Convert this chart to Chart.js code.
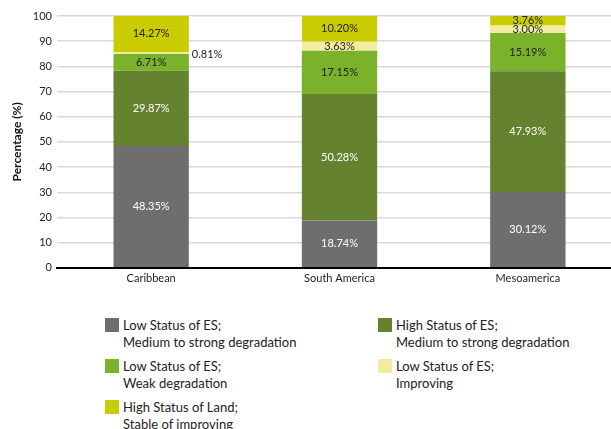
<!DOCTYPE html>
<html>
<head>
<meta charset="utf-8">
<script src="https://cdn.jsdelivr.net/npm/chart.js@4/dist/chart.umd.min.js"></script>
<style>
  html, body { margin: 0; padding: 0; background: #fff; overflow: hidden; }
  #wrap { position: relative; width: 622px; height: 289px; }
  #legend { position: absolute; left: 105px; top: 317px; width: 500px; font-family: Lato, "Open Sans", sans-serif; font-size: 13px; color: #222; }
  .item { position: absolute; display: flex; line-height: 17px; }
  .box { width: 14px; height: 14px; margin: 1px 4px 0 0; flex: none; }
</style>
</head>
<body>
<div id="wrap"><canvas id="chart"></canvas></div>
<div id="legend"></div>
<script>
// categories and stacked series (percent of area)
const regions = ['Caribbean', 'South America', 'Mesoamerica'];
const lowMedStrong = [48.35, 18.74, 30.12];
const highMedStrong = [29.87, 50.28, 47.93];
const lowWeak = [6.71, 17.15, 15.19];
const lowImproving = [0.81, 3.63, 3.00];
const highLandStable = [14.27, 10.20, 3.76];
const yTicks = [0, 10, 20, 30, 40, 50, 60, 70, 80, 90, 100];

const series = [
  { label: ['Low Status of ES;', 'Medium to strong degradation'], data: lowMedStrong, color: '#6e6e6e', text: '#ffffff' },
  { label: ['High Status of ES;', 'Medium to strong degradation'], data: highMedStrong, color: '#65822e', text: '#ffffff' },
  { label: ['Low Status of ES;', 'Weak degradation'], data: lowWeak, color: '#7ab22b', text: '#222222' },
  { label: ['Low Status of ES;', 'Improving'], data: lowImproving, color: '#f1eda0', text: '#222222' },
  { label: ['High Status of Land;', 'Stable of improving'], data: highLandStable, color: '#c9cc00', text: '#222222' },
];

const font = 'Lato, "Open Sans", sans-serif';

// value labels inside each segment; thin ones go beside the bar
const segmentLabels = {
  id: 'segmentLabels',
  afterDatasetsDraw(chart) {
    const ctx = chart.ctx;
    ctx.save();
    ctx.font = '11px ' + font;
    ctx.textBaseline = 'middle';
    chart.data.datasets.forEach((ds, i) => {
      chart.getDatasetMeta(i).data.forEach((bar, j) => {
        const v = ds.data[j];
        const txt = v.toFixed(2) + '%';
        const h = Math.abs(bar.base - bar.y);
        if (h < 6) {
          ctx.fillStyle = '#222';
          ctx.textAlign = 'left';
          ctx.fillText(txt, bar.x + bar.width / 2 + 3, (bar.y + bar.base) / 2 + 2);
        } else {
          ctx.fillStyle = series[i].text;
          ctx.textAlign = 'center';
          ctx.fillText(txt, bar.x, (bar.y + bar.base) / 2);
        }
      });
    });
    ctx.restore();
  }
};

new Chart(document.getElementById('chart'), {
  type: 'bar',
  data: {
    labels: regions,
    datasets: series.map(s => ({
      label: s.label.join(' '),
      data: s.data,
      backgroundColor: s.color,
      borderWidth: 0,
      barPercentage: 0.4,
      categoryPercentage: 1,
    })),
  },
  options: {
    responsive: true,
    maintainAspectRatio: false,
    animation: false,
    layout: { padding: { top: 16, right: 0, bottom: 0, left: 0 } },
    plugins: { legend: { display: false }, tooltip: { enabled: false } },
    scales: {
      x: {
        stacked: true,
        grid: { display: false, drawTicks: false },
        border: { color: '#000', width: 2 },
        ticks: { color: '#222', font: { family: font, size: 11 }, padding: 4 },
      },
      y: {
        stacked: true,
        min: 0,
        max: 100,
        afterBuildTicks: s => { s.ticks = yTicks.map(v => ({ value: v })); },
        afterFit: s => { s.width = 57; },
        border: { display: false },
        grid: { color: '#d9d9d9', lineWidth: 1.5, drawTicks: false },
        ticks: { color: '#222', font: { family: font, size: 11 }, padding: 5 },
        title: { display: true, text: 'Percentage (%)', color: '#111', font: { family: font, size: 12, weight: 'bold' }, padding: { top: 10, bottom: 0 } },
      },
    },
  },
  plugins: [segmentLabels],
});

// legend, two columns
const legend = document.getElementById('legend');
const spots = [[0, 0], [273, 0], [0, 41], [273, 41], [0, 82]];
series.forEach((s, i) => {
  const el = document.createElement('div');
  el.className = 'item';
  el.style.left = spots[i][0] + 'px';
  el.style.top = spots[i][1] + 'px';
  el.innerHTML = '<div class="box" style="background:' + s.color + '"></div><div>' + s.label.join('<br>') + '</div>';
  legend.appendChild(el);
});
</script>
</body>
</html>
